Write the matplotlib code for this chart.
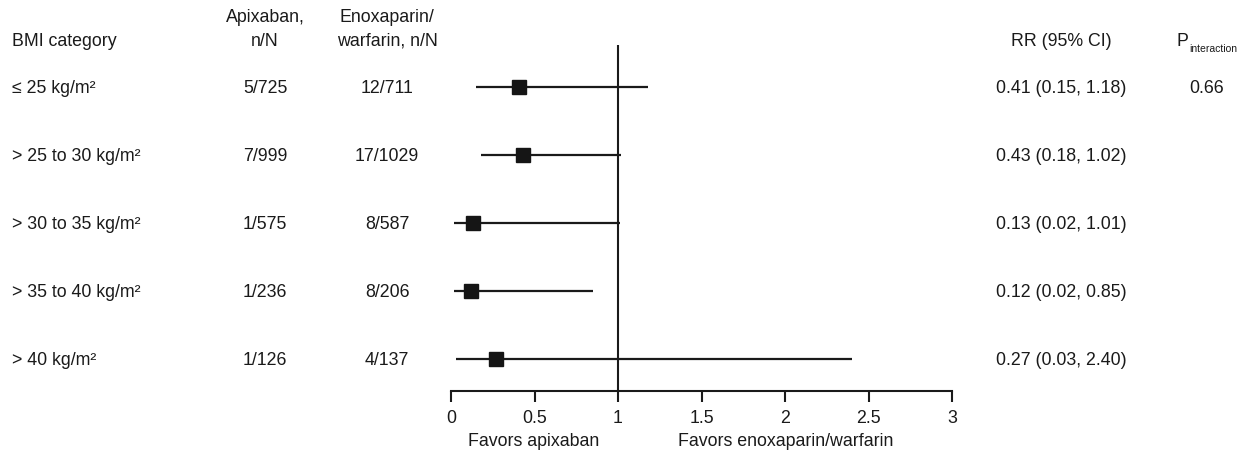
import matplotlib.pyplot as plt
from matplotlib.transforms import blended_transform_factory

plt.rcParams['font.family'] = ['Liberation Sans', 'DejaVu Sans']

categories = ["≤ 25 kg/m²", "> 25 to 30 kg/m²", "> 30 to 35 kg/m²",
              "> 35 to 40 kg/m²", "> 40 kg/m²"]
apixaban = ["5/725", "7/999", "1/575", "1/236", "1/126"]
enox_warf = ["12/711", "17/1029", "8/587", "8/206", "4/137"]
rr = [0.41, 0.43, 0.13, 0.12, 0.27]
ci_low = [0.15, 0.18, 0.02, 0.02, 0.03]
ci_high = [1.18, 1.02, 1.01, 0.85, 2.40]
p_interaction = ["0.66", "", "", "", ""]

W, H = 1252, 456
fig = plt.figure(figsize=(W / 100, H / 100), dpi=100)

# forest panel: x 451..952 px, y 46..392 px (from top)
ax = fig.add_axes([451 / W, 1 - 392 / H, (952 - 451) / W, (392 - 46) / H])
ax.set_xlim(0, 3)
ax.set_ylim(4.47, -0.62)

rows = list(range(len(categories)))
for i in rows:
    ax.plot([ci_low[i], ci_high[i]], [i, i], color="#1a1a1a", lw=1.6, solid_capstyle="butt")
ax.plot(rr, rows, "s", color="#151515", markersize=9.5, linestyle="none")
ax.axvline(1, color="#1a1a1a", lw=1.5)

for s in ["top", "left", "right"]:
    ax.spines[s].set_visible(False)
ax.spines["bottom"].set_linewidth(1.5)
ax.spines["bottom"].set_color("#1a1a1a")
ax.set_yticks([])
ax.set_xticks([0, 0.5, 1, 1.5, 2, 2.5, 3])
ax.set_xticklabels(["0", "0.5", "1", "1.5", "2", "2.5", "3"])
ax.tick_params(axis="x", length=8, width=1.5, color="#1a1a1a", labelsize=12.8,
               labelcolor="#1a1a1a", pad=5)

tr = blended_transform_factory(fig.transFigure, ax.transData)
fs = 12.8
tc = "#1a1a1a"
for i in rows:
    fig.text(12 / W, i, categories[i], transform=tr, fontsize=fs, va="center", ha="left", color=tc)
    fig.text(265 / W, i, apixaban[i], transform=tr, fontsize=fs, va="center", ha="center", color=tc)
    fig.text(387 / W, i, enox_warf[i], transform=tr, fontsize=fs, va="center", ha="center", color=tc)
    fig.text(1061 / W, i, "%.2f (%.2f, %.2f)" % (rr[i], ci_low[i], ci_high[i]),
             transform=tr, fontsize=fs, va="center", ha="center", color=tc)
    if p_interaction[i]:
        fig.text(1207 / W, i, p_interaction[i], transform=tr, fontsize=fs,
                 va="center", ha="center", color=tc)

# headers
hy = 1 - 41 / H
hy1 = 1 - 18 / H
fig.text(12 / W, hy, "BMI category", fontsize=fs, va="center", ha="left", color=tc)
fig.text(265 / W, hy1, "Apixaban,", fontsize=fs, va="center", ha="center", color=tc)
fig.text(265 / W, hy, "n/N", fontsize=fs, va="center", ha="center", color=tc)
fig.text(387 / W, hy1, "Enoxaparin/", fontsize=fs, va="center", ha="center", color=tc)
fig.text(387 / W, hy, "warfarin, n/N", fontsize=fs, va="center", ha="center", color=tc)
fig.text(1061 / W, hy, "RR (95% CI)", fontsize=fs, va="center", ha="center", color=tc)
fig.text(1177 / W, hy, "P", fontsize=fs, va="center", ha="left", color=tc)
fig.text(1189 / W, 1 - 49 / H, "interaction", fontsize=7.5, va="center", ha="left", color=tc)

fy = 1 - 442 / H
fig.text(534 / W, fy, "Favors apixaban", fontsize=fs, va="center", ha="center", color=tc)
fig.text(786 / W, fy, "Favors enoxaparin/warfarin", fontsize=fs, va="center", ha="center", color=tc)

fig.savefig("out.png", dpi=100)
